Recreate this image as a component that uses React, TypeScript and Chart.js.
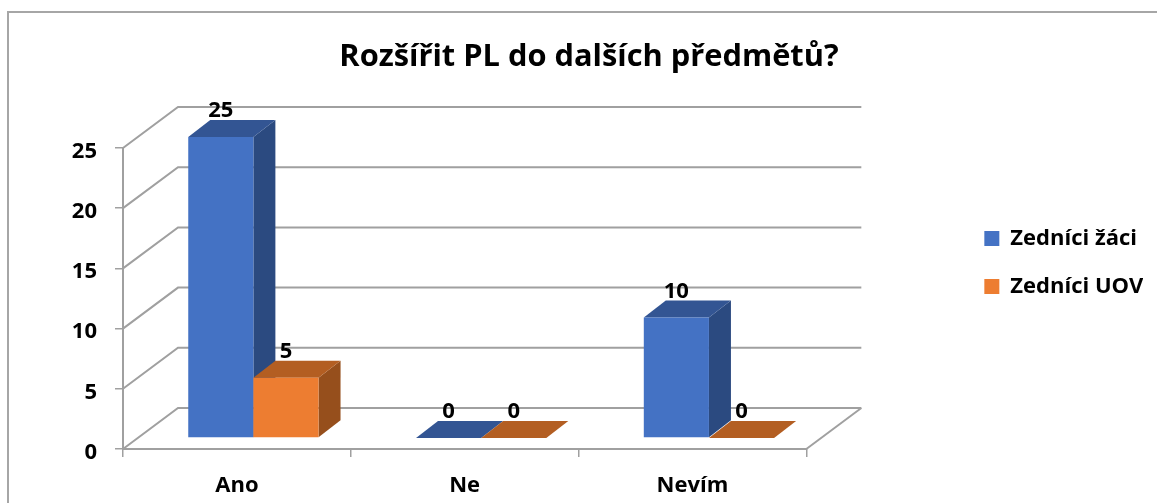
import React, { useEffect, useRef } from "react";
import { Chart, registerables } from "chart.js";

Chart.register(...registerables);

const categories = ["Ano", "Ne", "Nevím"];
const zaci = [25, 0, 10];
const uov = [5, 0, 0];
const yTicks = [0, 5, 10, 15, 20, 25];
const titleText = "Rozšířit PL do dalších předmětů?";
const seriesNames = ["Zedníci žáci", "Zedníci UOV"];

const FONT = "'Open Sans'";
const GRID = "#a0a0a0";
const DX = 55;
const DY = -41;
const BAR_DX = 16.5;
const BAR_DY = -11;
const DEPTH_X = 22;
const DEPTH_Y = -17;
const shades = [
  { top: "#335593", side: "#2b4a80" },
  { top: "#b35e22", side: "#964f1c" },
];

const poly = (ctx: CanvasRenderingContext2D, pts: number[][], fill: string) => {
  ctx.beginPath();
  pts.forEach((p, i) => (i ? ctx.lineTo(p[0], p[1]) : ctx.moveTo(p[0], p[1])));
  ctx.closePath();
  ctx.fillStyle = fill;
  ctx.fill();
};

const walls3d = {
  id: "walls3d",
  beforeDatasetsDraw(chart: any) {
    const { ctx, chartArea, scales } = chart;
    ctx.save();
    ctx.strokeStyle = GRID;
    ctx.lineWidth = 2;
    yTicks.forEach((v) => {
      const y = scales.y.getPixelForValue(v);
      ctx.beginPath();
      ctx.moveTo(chartArea.left, y);
      ctx.lineTo(chartArea.left + DX, y + DY);
      ctx.lineTo(chartArea.right + DX, y + DY);
      ctx.stroke();
    });
    const y0 = scales.y.getPixelForValue(0);
    ctx.beginPath();
    ctx.moveTo(chartArea.right, y0);
    ctx.lineTo(chartArea.right + DX, y0 + DY);
    ctx.stroke();
    ctx.restore();
  },
};

const bars3d = {
  id: "bars3d",
  // the library draws the last dataset first; here the first series goes first
  beforeDatasetDraw() {
    return false;
  },
  afterDatasetsDraw(chart: any) {
    const { ctx } = chart;
    chart.data.datasets.forEach((_: any, i: number) => {
      const meta = chart.getDatasetMeta(i);
      const c = shades[i];
      ctx.save();
      ctx.translate(BAR_DX, BAR_DY);
      meta.data.forEach((bar: any) => {
        const l = bar.x - bar.width / 2;
        const r = bar.x + bar.width / 2;
        const t = bar.y;
        const b = bar.base;
        if (b - t > 0.5) {
          poly(ctx, [[r, t], [r + DEPTH_X, t + DEPTH_Y], [r + DEPTH_X, b + DEPTH_Y], [r, b]], c.side);
        }
        poly(ctx, [[l, t], [l + DEPTH_X, t + DEPTH_Y], [r + DEPTH_X, t + DEPTH_Y], [r, t]], c.top);
      });
      meta.controller.draw();
      ctx.restore();
    });
    ctx.save();
    ctx.font = `bold 22px ${FONT}`;
    ctx.fillStyle = "#000";
    ctx.textAlign = "center";
    ctx.textBaseline = "middle";
    chart.data.datasets.forEach((ds: any, i: number) => {
      chart.getDatasetMeta(i).data.forEach((bar: any, j: number) => {
        ctx.fillText(String(ds.data[j]), bar.x + BAR_DX, bar.y + BAR_DY - 26);
      });
    });
    ctx.restore();
  },
};

export default function App() {
  const ref = useRef<HTMLCanvasElement | null>(null);
  useEffect(() => {
    if (!ref.current) return;
    const chart = new Chart(ref.current, {
      type: "bar",
      data: {
        labels: categories,
        datasets: [
          { label: seriesNames[0], data: zaci, backgroundColor: "#4472c4" },
          { label: seriesNames[1], data: uov, backgroundColor: "#ed7d31" },
        ],
      },
      options: {
        responsive: false,
        animation: false,
        devicePixelRatio: 1,
        layout: { padding: { left: 35, right: 14, top: 22, bottom: 0 } },
        datasets: { bar: { categoryPercentage: 0.572, barPercentage: 1 } },
        plugins: {
          tooltip: { enabled: false },
          title: {
            display: true,
            text: titleText,
            color: "#000",
            font: { family: FONT, size: 30.8, weight: "bold" },
            padding: { top: 17, bottom: 72 },
          },
          legend: {
            display: true,
            position: "right",
            labels: {
              boxWidth: 15,
              boxHeight: 15,
              padding: 26,
              color: "#000",
              font: { family: FONT, size: 22, weight: "bold" },
            },
          },
        },
        scales: {
          x: {
            afterFit: (s: any) => { s.height = 54; },
            grid: { drawOnChartArea: false, drawTicks: true, tickLength: 8, color: GRID, lineWidth: 1.5 },
            border: { color: GRID, width: 2 },
            ticks: { color: "#000", padding: 16, font: { family: FONT, size: 22, weight: "bold" } },
          },
          y: {
            min: 0,
            max: 25,
            afterFit: (s: any) => { s.width = 88; },
            grid: { drawOnChartArea: false, drawTicks: true, tickLength: 8, color: GRID, lineWidth: 1.5 },
            border: { color: GRID, width: 2 },
            ticks: { stepSize: 5, color: "#000", padding: 18, labelOffset: 3.5, font: { family: FONT, size: 22, weight: "bold" } },
          },
          gap: {
            axis: "y",
            position: "right",
            afterFit: (s: any) => { s.width = 152; },
            grid: { display: false },
            border: { display: false },
            ticks: { display: false },
          },
        },
      },
      plugins: [walls3d, bars3d],
    } as any);
    return () => chart.destroy();
  }, []);
  return (
    <div style={{ position: "absolute", left: 0, top: 0, width: 1157, height: 503, overflow: "hidden", background: "#fff" }}>
      <div style={{ position: "absolute", left: 7, top: 11, width: 1160, height: 520, borderLeft: "2px solid #a6a6a6", borderTop: "2px solid #a6a6a6", boxSizing: "border-box" }} />
      <canvas ref={ref} width={1157} height={503} style={{ position: "absolute", left: 0, top: 0, display: "block" }} />
    </div>
  );
}
